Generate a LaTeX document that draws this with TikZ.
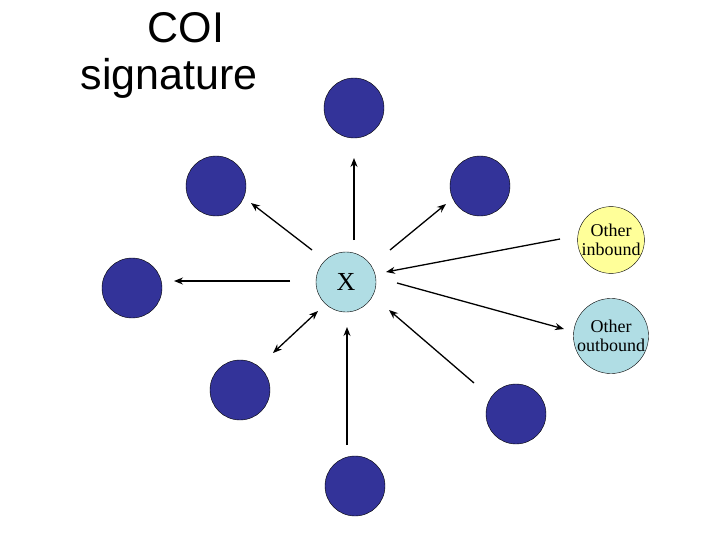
\documentclass[tikz,border=0pt]{standalone}
\usepackage{fontspec}
\setmainfont{Liberation Serif}
\newfontfamily\arialf{Liberation Sans}
\usetikzlibrary{arrows.meta}
\begin{document}
\begin{tikzpicture}[x=1pt,y=-1pt,
  blue/.style={circle,draw=black,fill={rgb,255:red,51;green,51;blue,153},minimum size=60pt,inner sep=0pt},
  small/.style={circle,draw=black,minimum size=62pt,inner sep=0pt,font=\fontsize{18}{19}\selectfont,align=center},
  arr/.style={line width=1.3pt,-{Stealth[length=9pt,width=7pt]}}]
\useasboundingbox (0,0) rectangle (720,540);
\node[font=\arialf\fontsize{43}{46}\selectfont] (t1) at (186,28) {COI};
\node[font=\arialf\fontsize{43}{46}\selectfont] (t2) at (169,78) {signature};
\node[circle,draw=black,fill={rgb,255:red,176;green,221;blue,228},minimum size=60pt,inner sep=0pt,font=\fontsize{26}{26}\selectfont] (x) at (346,282) {X};
\node[blue] (n1) at (354,108) {};
\node[blue] (n2) at (216,186) {};
\node[blue] (n3) at (480,186) {};
\node[blue] (n4) at (132,288) {};
\node[blue] (n5) at (240,390) {};
\node[blue] (n6) at (355,486) {};
\node[blue] (n7) at (516,414) {};
\node[small,fill={rgb,255:red,255;green,255;blue,153}] (in) at (611,240) {Other\\inbound};
\node[small,fill={rgb,255:red,176;green,221;blue,228}] (out) at (611,336) {Other\\outbound};
\coordinate (a1) at (354,240); \coordinate (b1) at (354,158);
\coordinate (a2) at (312,250); \coordinate (b2) at (251,203);
\coordinate (a3) at (390,250); \coordinate (b3) at (446,204);
\coordinate (a4) at (290,281); \coordinate (b4) at (174,281);
\coordinate (a5) at (318,311); \coordinate (b5) at (273,353);
\coordinate (a6) at (347,445); \coordinate (b6) at (347,327);
\coordinate (a7) at (474,383); \coordinate (b7) at (389,310);
\coordinate (a8) at (560,239); \coordinate (b8) at (386,272);
\coordinate (a9) at (397,283); \coordinate (b9) at (564,329);
\draw[arr] (a1) -- (b1);
\draw[arr] (a2) -- (b2);
\draw[arr] (a3) -- (b3);
\draw[arr] (a4) -- (b4);
\draw[arr,{Stealth[length=9pt,width=7pt]}-{Stealth[length=9pt,width=7pt]}] (a5) -- (b5);
\draw[arr] (a6) -- (b6);
\draw[arr] (a7) -- (b7);
\draw[arr] (a8) -- (b8);
\draw[arr] (a9) -- (b9);
\end{tikzpicture}
\end{document}
